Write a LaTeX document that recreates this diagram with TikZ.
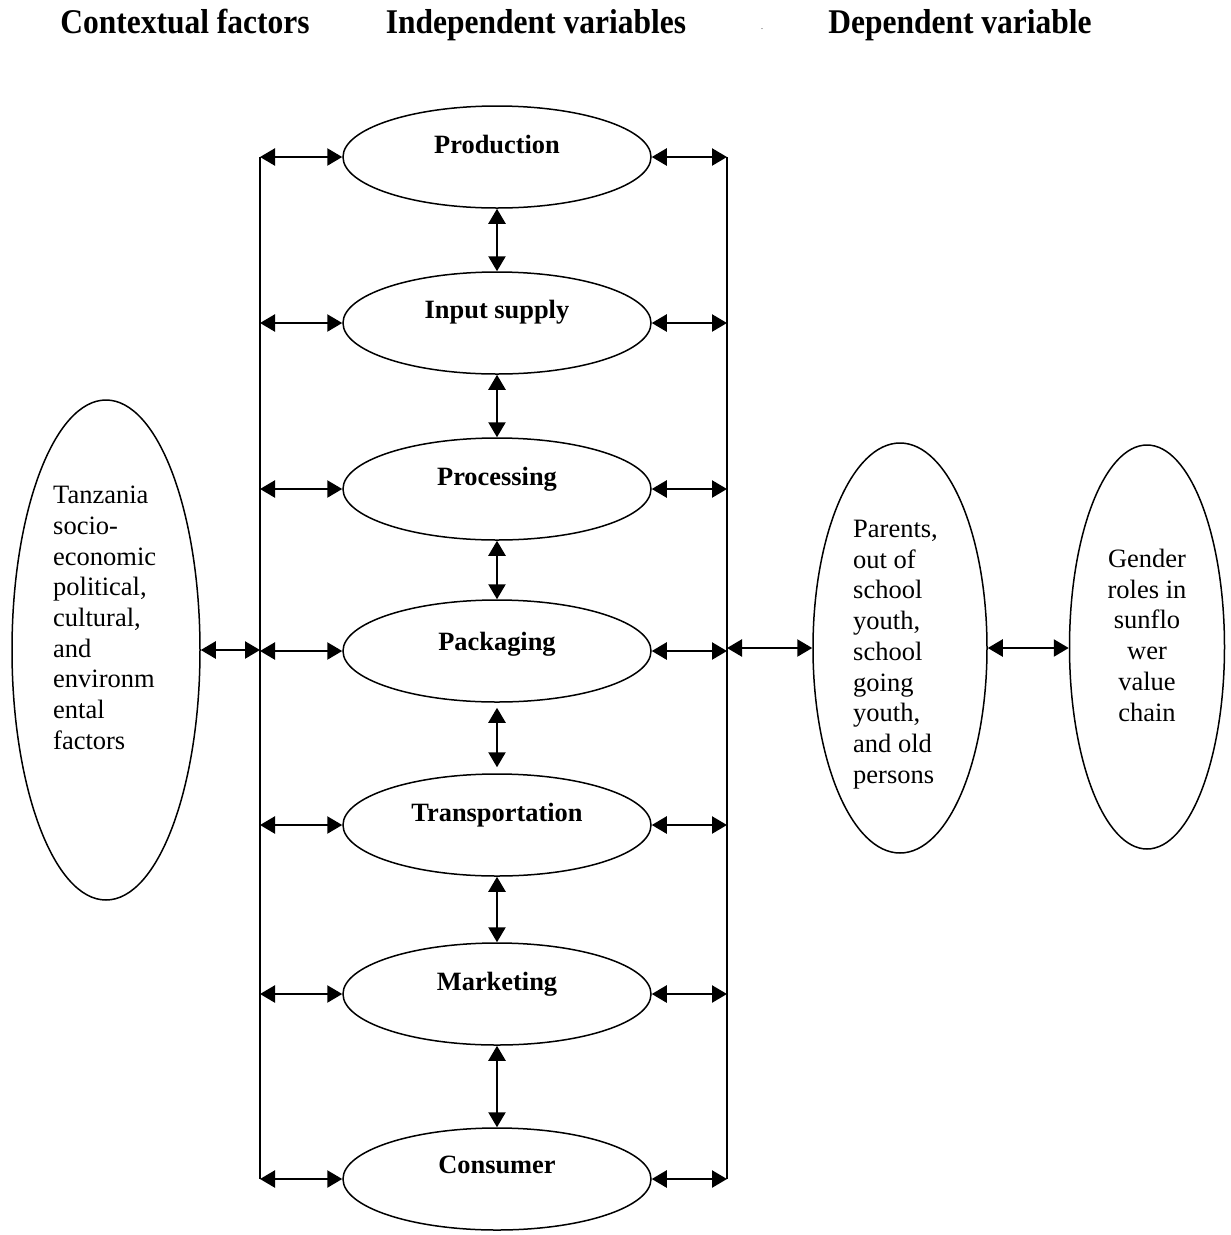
\documentclass[tikz,border=0pt]{standalone}
\usepackage{fontspec}
\setmainfont{Liberation Serif}
\usepackage{graphicx}
\usetikzlibrary{shapes.geometric,arrows.meta}
\begin{document}
\begin{tikzpicture}[x=1pt,y=-1pt,
  stage/.style={ellipse,draw,line width=1.5pt,minimum width=308pt,minimum height=102pt,inner sep=0pt},
  stagetext/.style={anchor=base,inner sep=0pt,font=\fontsize{26.4}{30}\selectfont\bfseries},
  oval/.style={ellipse,draw,line width=1.5pt,inner sep=0pt},
  body/.style={inner sep=0pt,font=\fontsize{26.5}{30.7}\selectfont},
  head/.style={anchor=base,inner sep=0pt,font=\fontsize{31.5}{36}\selectfont\bfseries},
  dbl/.style={{Triangle[length=15pt,width=17pt]}-{Triangle[length=15pt,width=17pt]},line width=2.4pt},
  rail/.style={line width=1.5pt}]
\useasboundingbox (0,0) rectangle (1231,1235);

% headers
\node[head] (h1) at (185,33) {\scalebox{1}[1.1]{Contextual factors}};
\node[head] (h2) at (536,33) {\scalebox{1}[1.1]{Independent variables}};
\node[head] (h3) at (960,33) {\scalebox{1}[1.1]{Dependent variable}};
\node[inner sep=0pt,font=\fontsize{8}{8}\selectfont] (dot) at (762,29) {.};

% stages
\node[stage] (s1) at (497,157) {};
\node[stage] (s2) at (497,323) {};
\node[stage] (s3) at (497,489) {};
\node[stage] (s4) at (497,651) {};
\node[stage] (s5) at (497,825) {};
\node[stage] (s6) at (497,994) {};
\node[stage] (s7) at (497,1179) {};
\node[stagetext] (s1t) at ([yshift=4pt]s1.center) {Production};
\node[stagetext] (s2t) at ([yshift=5pt]s2.center) {Input supply};
\node[stagetext] (s3t) at ([yshift=4pt]s3.center) {Processing};
\node[stagetext] (s4t) at ([yshift=1pt]s4.center) {Packaging};
\node[stagetext] (s5t) at ([yshift=4pt]s5.center) {Transportation};
\node[stagetext] (s6t) at ([yshift=4pt]s6.center) {Marketing};
\node[stagetext] (s7t) at ([yshift=6pt]s7.center) {Consumer};

% side ellipses
\node[oval,minimum width=188pt,minimum height=500pt] (ctx) at (106,650) {};
\node[body,anchor=north west,align=left] (ctxt) at (53,486)
  {Tanzania\\socio-\\economic\\political,\\cultural,\\and\\environm\\ental\\factors};
\node[oval,minimum width=174pt,minimum height=410pt] (par) at (900,648) {};
\node[body,anchor=north west,align=left] (part) at (853,520)
  {Parents,\\out of\\school\\youth,\\school\\going\\youth,\\and old\\persons};
\node[oval,minimum width=155pt,minimum height=404pt] (gen) at (1147,647) {};
\node[body,anchor=north,align=center] (gent) at (1147,549)
  {Gender\\roles in\\sunflo\\wer\\value\\chain};

% rails
\coordinate (Lt) at (260,157);
\coordinate (Lb) at (260,1179);
\coordinate (Rt) at (727,157);
\coordinate (Rb) at (727,1179);
\draw[rail] (Lt) -- (Lb);
\draw[rail] (Rt) -- (Rb);

% horizontal arrows
\foreach \s in {s1,s2,s3,s4,s5,s6,s7}{
  \draw[dbl] (\s.west -| Lt) -- (\s.west);
  \draw[dbl] (\s.east) -- (\s.east -| Rt);
}
\draw[dbl] (ctx.east) -- (ctx.east -| Lt);
\draw[dbl] (par.west -| Rt) -- (par.west);
\draw[dbl] (par.east) -- (gen.west |- par.east);

% vertical arrows
\draw[dbl] (s1.south) -- (s2.north);
\draw[dbl] (s2.south) -- (s3.north);
\draw[dbl] (s3.south) -- (s4.north);
\draw[dbl,shorten <=5pt,shorten >=6pt] (s4.south) -- (s5.north);
\draw[dbl] (s5.south) -- (s6.north);
\draw[dbl] (s6.south) -- (s7.north);
\end{tikzpicture}
\end{document}
